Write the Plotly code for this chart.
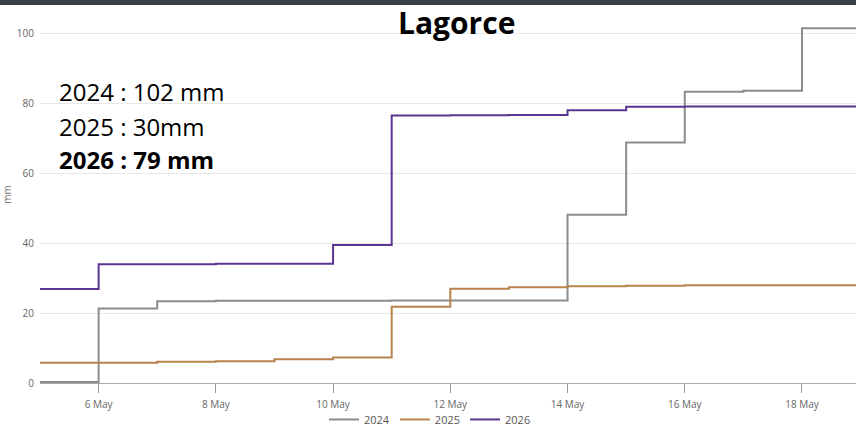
import plotly.graph_objects as go

dates = ["2026-05-05", "2026-05-06", "2026-05-07", "2026-05-08", "2026-05-09",
         "2026-05-10", "2026-05-11", "2026-05-12", "2026-05-13", "2026-05-14",
         "2026-05-15", "2026-05-16", "2026-05-17", "2026-05-18", "2026-05-19"]

rain_2024 = [0.3, 21.3, 23.4, 23.5, 23.5, 23.5, 23.6, 23.6, 23.6, 48.1, 68.8, 83.3, 83.6, 101.5, 101.5]
rain_2025 = [5.8, 5.8, 6.1, 6.2, 6.8, 7.3, 21.8, 27.0, 27.4, 27.7, 27.8, 28.0, 28.0, 28.0, 28.0]
rain_2026 = [26.9, 34.0, 34.0, 34.1, 34.1, 39.5, 76.5, 76.6, 76.7, 78.0, 79.0, 79.1, 79.1, 79.1, 79.1]

series_names = ["2024", "2025", "2026"]
series_values = [rain_2024, rain_2025, rain_2026]
series_colors = ["#8c8c8c", "#b8844c", "#5b3592"]

title_text = "Lagorce"
summary_lines = ["2024 : 102 mm", "2025 : 30mm", "<b>2026 : 79 mm</b>"]

W, H = 856, 429
L, R, T, B = 40, 0, 6, 45.5
plot_w = W - L - R
plot_h = H - T - B


def px_x(px):
    return (px - L) / plot_w


def px_y(py):
    return (H - B - py) / plot_h


fig = go.Figure()
for name, vals, col in zip(series_names, series_values, series_colors):
    fig.add_trace(go.Scatter(x=dates, y=vals, name=name, mode="lines",
                             line=dict(color=col, width=2, shape="hv")))

fig.update_layout(
    width=W, height=H,
    margin=dict(l=L, r=R, t=T, b=B, pad=0, autoexpand=False),
    plot_bgcolor="white", paper_bgcolor="white",
    font=dict(family="Open Sans", color="#666666", size=9),
    showlegend=True,
    legend=dict(orientation="h", x=px_x(430), xanchor="center", y=px_y(420), yanchor="middle",
                font=dict(size=11, color="#555555"), itemwidth=30, bgcolor="rgba(0,0,0,0)"),
    xaxis=dict(type="date", range=["2026-05-05 00:00", "2026-05-18 22:07"],
               tickformat="%-d %b", dtick=2 * 86400000, tick0="2026-05-06",
               ticks="outside", ticklen=9, tickcolor="#999999", tickwidth=1,
               ticklabelstandoff=3,
               showline=True, linecolor="#aaaaaa", linewidth=1,
               showgrid=False, zeroline=False, automargin=False,
               tickfont=dict(size=10, color="#666666")),
    yaxis=dict(range=[0, (H - B - T) / 3.5], tickvals=[0, 20, 40, 60, 80, 100],
               showgrid=True, gridcolor="#e8e8e8", gridwidth=1, zeroline=False,
               showline=False, ticks="", ticklabelstandoff=5, automargin=False,
               tickfont=dict(size=10, color="#666666"),
               title=dict(text="mm", font=dict(size=10, color="#777777"), standoff=14)),
)

# dark top bar
fig.add_shape(type="rect", xref="paper", yref="paper",
              x0=px_x(0), x1=px_x(W), y0=px_y(5), y1=px_y(0),
              fillcolor="#3b3f48", line=dict(width=0), layer="above")

fig.add_annotation(text="<b>" + title_text + "</b>", xref="paper", yref="paper",
                   x=px_x(456), y=px_y(23), xanchor="center", yanchor="middle",
                   showarrow=False, font=dict(family="Open Sans", size=30, color="#000000"))

for i, (txt, py) in enumerate(zip(summary_lines, [92, 127, 160])):
    fig.add_annotation(text=txt, xref="paper", yref="paper",
                       x=px_x(57), y=px_y(py), xanchor="left", yanchor="middle",
                       showarrow=False, font=dict(family="Open Sans", size=24, color="#000000"))

fig.write_html("out.html", config={"displayModeBar": False},
               post_script="document.body.style.margin='0px';document.body.style.overflow='hidden';")
